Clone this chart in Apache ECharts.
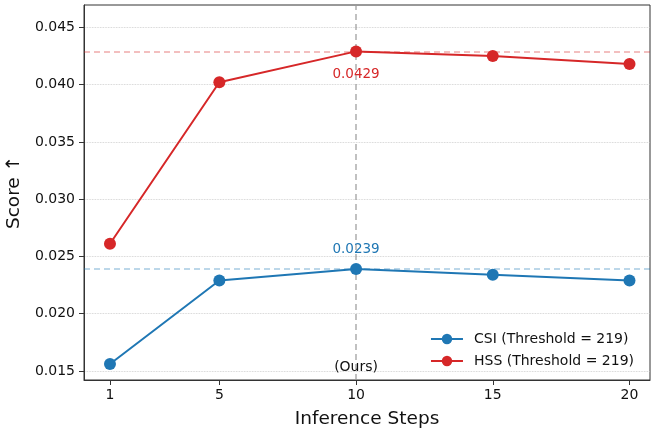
<!DOCTYPE html>
<html>
<head>
<meta charset="utf-8">
<script src="https://cdn.jsdelivr.net/npm/echarts@6/dist/echarts.min.js"></script>
<style>
  html, body { margin: 0; padding: 0; background: #fff; }
  #chart { width: 651px; height: 429px; }
</style>
</head>
<body>
<div id="chart"></div>
<script>
// data
const steps = [1, 5, 10, 15, 20]
const csiScores = [0.0156, 0.0229, 0.0239, 0.0234, 0.0229]
const hssScores = [0.0261, 0.0402, 0.0429, 0.0425, 0.0418]
const xTicks = [1, 5, 10, 15, 20]
const yTicks = [0.015, 0.020, 0.025, 0.030, 0.035, 0.040, 0.045]
const oursStep = 10
const csiBest = 0.0239
const hssBest = 0.0429
const oursLabelY = 0.01535

const FONT = 'DejaVu Sans'
const BLUE = '#1f77b4'
const RED = '#d62728'

function toPoints(values, bestIdx, labelPos, dist) {
  return steps.map((s, i) => {
    const item = { value: [s, values[i]] }
    if (i === bestIdx) {
      item.label = {
        show: true,
        position: labelPos,
        distance: dist,
        formatter: values[i].toFixed(4),
      }
    }
    return item
  })
}

const chart = echarts.init(document.getElementById('chart'))

const option = {
  animation: false,
  textStyle: { fontFamily: FONT },
  grid: {
    left: 84, right: 1, top: 5, bottom: 49,
    outerBoundsMode: 'none',
    containLabel: false,
    show: true, borderColor: '#333', borderWidth: 1,
  },
  legend: {
    orient: 'vertical',
    right: 12,
    top: 327,
    itemGap: 8,
    itemWidth: 32,
    itemHeight: 13,
    textStyle: { fontFamily: FONT, fontSize: 14, color: '#111', padding: [0, 0, 0, 6] },
    data: ['CSI (Threshold = 219)', 'HSS (Threshold = 219)'],
  },
  xAxis: {
    type: 'value',
    min: 0.05,
    max: 20.75,
    name: 'Inference Steps',
    nameLocation: 'middle',
    nameGap: 30,
    nameTextStyle: { fontFamily: FONT, fontSize: 18.5, color: '#111' },
    axisLine: { show: true, lineStyle: { color: '#333' } },
    axisTick: { show: true, length: 5, customValues: xTicks, lineStyle: { color: '#333' } },
    axisLabel: { customValues: xTicks, fontSize: 14, color: '#111', margin: 8, fontFamily: FONT },
    splitLine: { show: false },
  },
  yAxis: {
    type: 'value',
    min: 0.01421,
    max: 0.04695,
    name: 'Score ↑',
    nameLocation: 'middle',
    nameGap: 58,
    nameTextStyle: { fontFamily: FONT, fontSize: 18.5, color: '#111' },
    axisLine: { show: true, lineStyle: { color: '#333' } },
    axisTick: { show: true, length: 5, customValues: yTicks, lineStyle: { color: '#333' } },
    axisLabel: {
      customValues: yTicks, fontSize: 14, color: '#111', margin: 9, fontFamily: FONT,
      formatter: v => v.toFixed(3),
    },
    splitLine: { show: true, lineStyle: { color: '#c8c8c8', type: 'dotted', width: 0.8 } },
  },
  series: [
    {
      name: 'CSI (Threshold = 219)',
      type: 'line',
      data: toPoints(csiScores, 2, 'top', 7),
      color: BLUE,
      symbol: 'circle',
      symbolSize: 12,
      lineStyle: { width: 2 },
      label: { color: BLUE, fontSize: 13.5, fontFamily: FONT },
      z: 5,
      markLine: {
        silent: true,
        symbol: 'none',
        precision: 4,
        label: { show: false },
        lineStyle: { color: BLUE, opacity: 0.4, type: [6, 4], width: 1.5 },
        data: [{ yAxis: csiBest }],
      },
      markPoint: {
        silent: true,
        symbol: 'circle',
        symbolSize: 0,
        label: { show: true, position: 'inside', formatter: '(Ours)', color: '#111', fontSize: 14, fontFamily: FONT },
        data: [{ coord: [oursStep, oursLabelY] }],
      },
    },
    {
      name: 'HSS (Threshold = 219)',
      type: 'line',
      data: toPoints(hssScores, 2, 'bottom', 10),
      color: RED,
      symbol: 'circle',
      symbolSize: 12,
      lineStyle: { width: 2 },
      label: { color: RED, fontSize: 13.5, fontFamily: FONT },
      z: 5,
      markLine: {
        silent: true,
        symbol: 'none',
        precision: 4,
        label: { show: false },
        data: [
          { yAxis: hssBest, lineStyle: { color: RED, opacity: 0.4, type: [6, 4], width: 1.5 } },
          { xAxis: oursStep, lineStyle: { color: '#999', opacity: 0.8, type: [6, 4], width: 1.5 } },
        ],
      },
    },
  ],
}

chart.setOption(option)
</script>
</body>
</html>
